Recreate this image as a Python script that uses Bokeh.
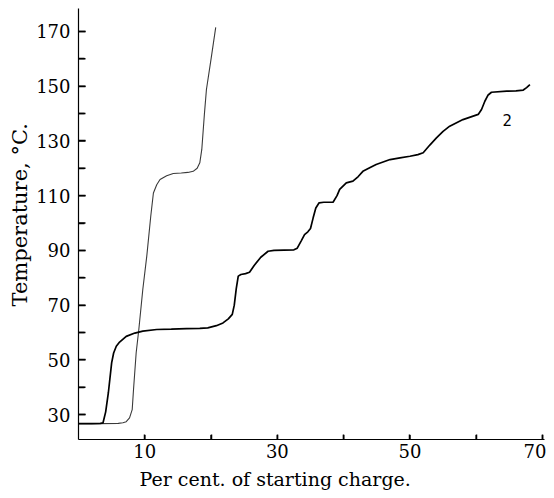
import math
from bokeh.plotting import figure
from bokeh.models import FixedTicker, Range1d, Title
from bokeh.core.properties import value
from bokeh.embed import file_html
from bokeh.resources import INLINE

# Curve 1 (steep curve)
x1 = [0, 3, 6, 6.7, 7.2, 7.7, 8.1, 8.3, 8.7, 9.1, 9.7, 10.3, 10.9, 11.3, 11.8,
      12.3, 13.3, 14.3, 15.5, 16.5, 17.3, 17.9, 18.3, 18.6, 19.0, 19.3, 20.0, 20.7]
y1 = [26.7, 26.7, 26.8, 27.0, 27.4, 28.8, 31.8, 39.2, 52.6, 61.1, 75.7, 87.9, 102.5, 111, 114,
      115.9, 117.3, 118.1, 118.3, 118.5, 118.9, 120, 122, 126.9, 140, 148.8, 160, 171.5]

# Curve 2
x2 = [0, 2, 3.3, 3.7, 4.1, 4.5, 5.0, 5.3, 5.7, 6.2, 7.2, 8.5, 9.7, 11.8, 14, 16.3, 18.3,
      19.5, 20.8, 21.8, 22.6, 23.2, 23.5, 23.8, 24.1, 24.5, 25.2, 25.8, 26.5, 27.5, 28.6,
      29.5, 31, 32.5, 33.0, 33.6, 34.1, 34.6, 35.0, 35.4, 35.8, 36.3, 37.0, 38.4, 39.0,
      39.4, 40.4, 41.4, 42.2, 42.9, 44.0, 44.9, 47.0, 48.5, 50.0, 51.2, 52.0, 53.0, 54.0,
      55.0, 56.0, 58.0, 60.3, 60.8, 61.3, 61.8, 62.3, 64.6, 66.0, 67.1, 67.6, 68.1]
y2 = [26.7, 26.7, 26.8, 27.0, 31, 37.9, 48.9, 52.5, 55, 56.5, 58.6, 59.8, 60.5, 61.1, 61.2,
      61.4, 61.5, 61.7, 62.5, 63.5, 65, 66.6, 70, 76, 80.6, 81.2, 81.5, 82, 84.5, 87.5, 89.7,
      90.0, 90.1, 90.2, 90.8, 93.5, 95.8, 96.8, 98, 101.9, 105.5, 107.4, 107.6, 107.6, 110,
      112.3, 114.7, 115.3, 117, 118.9, 120.3, 121.4, 123.2, 123.8, 124.4, 125.0, 125.7, 128.5,
      131.1, 133.5, 135.4, 137.8, 139.7, 141.5, 144.5, 146.8, 147.8, 148.2, 148.3, 148.6,
      149.5, 150.6]

y_major = [30, 50, 70, 90, 110, 130, 150, 170]
y_minor = [40, 60, 80, 100, 120, 140, 160]
x_major = [10, 30, 50, 70]
x_minor = [20, 40, 60]

curve_label = "2"
label_pos = (64.7, 137.8)
x_title = "Per cent. of starting charge."
y_title = "Temperature, °C."

x_start, x_end = 0, 70.3
y_start, y_end = 20.9, 178.4

p = figure(width=546, height=497, output_backend="svg", toolbar_location=None,
           x_range=Range1d(x_start, x_end), y_range=Range1d(y_start, y_end),
           min_border_left=78, min_border_right=2, min_border_top=8, min_border_bottom=58)
p.outline_line_color = None
p.xgrid.grid_line_color = None
p.ygrid.grid_line_color = None
p.background_fill_color = "white"
p.border_fill_color = "white"

p.line(x1, y1, line_color="#3a3a3a", line_width=1.1)
p.line(x2, y2, line_color="black", line_width=1.7)
p.text(x=[label_pos[0]], y=[label_pos[1]], text=[curve_label], text_font=value("DejaVu Sans"),
       text_font_size="15px", text_align="center", text_baseline="middle", text_color="black")

# inward tick marks (dash markers centred on the axis line; the outer half is clipped by the frame)
y_ticks_all = y_major + y_minor
p.scatter(x=[x_start] * len(y_ticks_all), y=y_ticks_all, marker="dash", size=14,
          line_color="black", line_width=1.5)
x_ticks_all = x_major + x_minor
p.scatter(x=x_ticks_all, y=[y_start] * len(x_ticks_all), marker="dash", size=9,
          angle=math.pi / 2, line_color="black", line_width=1.5)

serif = "DejaVu Serif"
for ax in (p.xaxis[0], p.yaxis[0]):
    ax.axis_line_color = "black"
    ax.axis_line_width = 1.2
    ax.major_tick_out = 0
    ax.minor_tick_out = 0
    ax.major_tick_line_color = "black"
    ax.minor_tick_line_color = "black"
    ax.major_tick_line_width = 1.5
    ax.minor_tick_line_width = 1.5
    ax.major_label_text_font = serif
    ax.major_label_text_font_size = "18px"
    ax.major_label_text_color = "black"
    ax.axis_label = None

p.yaxis[0].ticker = FixedTicker(ticks=y_major, minor_ticks=y_minor)
p.yaxis[0].major_tick_in = 7
p.yaxis[0].minor_tick_in = 6
p.yaxis[0].major_label_standoff = 8

p.xaxis[0].ticker = FixedTicker(ticks=x_major, minor_ticks=x_minor)
p.xaxis[0].major_tick_in = 5
p.xaxis[0].minor_tick_in = 5
p.xaxis[0].major_label_standoff = 4

p.add_layout(Title(text=x_title, align="left", offset=61, standoff=11,
                   text_font=serif, text_font_size="19px", text_font_style="normal",
                   text_color="black"), "below")
p.add_layout(Title(text=y_title, align="left", offset=133, standoff=3,
                   text_font=serif, text_font_size="21px", text_font_style="normal",
                   text_color="black"), "left")

open("out.html", "w").write(file_html(p, INLINE))
